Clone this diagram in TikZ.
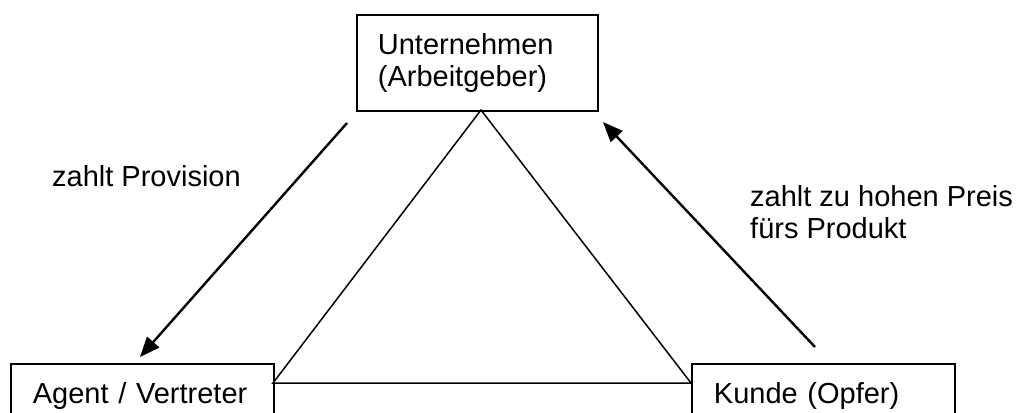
\documentclass[tikz,border=0pt]{standalone}
\usepackage{fontspec}
\setmainfont{Liberation Sans}
\usetikzlibrary{arrows.meta}
\begin{document}
\begin{tikzpicture}[x=1pt,y=-1pt,
  box/.style={draw, line width=1.8pt, inner sep=0pt, align=left, font=\fontsize{29}{32}\selectfont},
  lbl/.style={inner sep=0pt, anchor=base west, align=left, font=\fontsize{29}{32}\selectfont},
  link/.style={line width=1.5pt},
  pay/.style={line width=2.4pt, -{Triangle[length=20pt,width=16pt]}}]
\useasboundingbox (0,0) rectangle (1016,412);
\clip (0,0) rectangle (1016,412);
\node[box, anchor=north west, minimum width=241pt, minimum height=96pt, text width=199pt] (firm) at (356,14) {Unternehmen\\(Arbeitgeber)};
\node[box, anchor=north west, minimum width=263pt, minimum height=60pt, text width=219pt, text height=20pt, text depth=0pt] (agent) at (10,363) {Agent / Vertreter};
\node[box, anchor=north west, minimum width=263pt, minimum height=60pt, text width=219pt, text height=20pt, text depth=0pt] (kunde) at (691,363) {Kunde (Opfer)};
\coordinate (T) at (481,110);
\coordinate (L) at (273,383);
\coordinate (R) at (691,383);
\draw[link] (T) -- (L) -- (R) -- cycle;
\coordinate (p1) at (347,123);
\coordinate (p2) at (140,357);
\coordinate (q1) at (815,347);
\coordinate (q2) at (603,122);
\draw[pay] (p1) -- (p2);
\draw[pay] (q1) -- (q2);
\node[lbl] (l1) at (52,186) {zahlt Provision};
\node[lbl] (l2) at (750,238) {zahlt zu hohen Preis\\fürs Produkt};
\end{tikzpicture}
\end{document}
